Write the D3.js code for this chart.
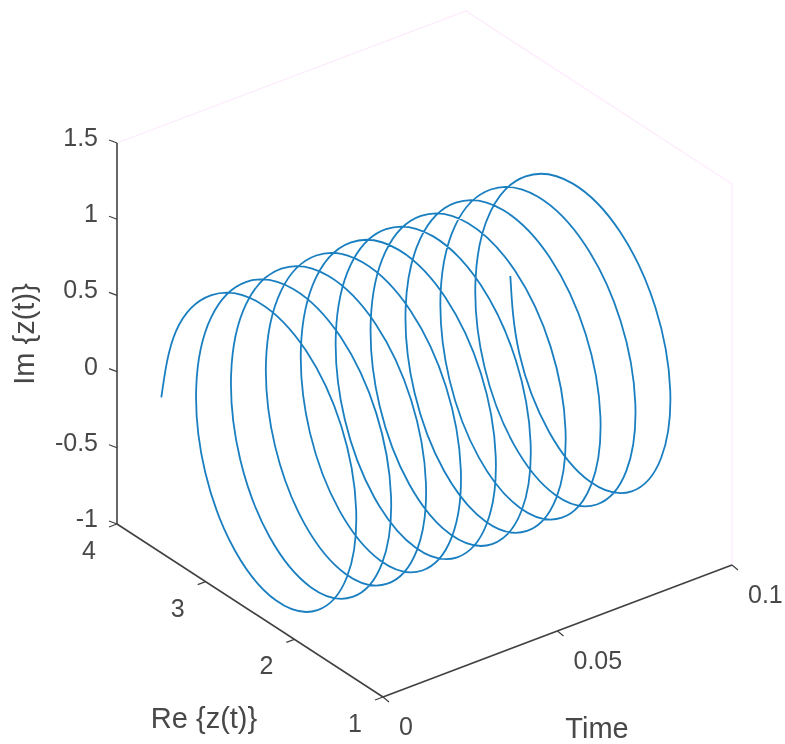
<!DOCTYPE html>
<html><head><meta charset="utf-8">
<script src="https://cdn.jsdelivr.net/npm/d3@7"></script>
<style>html,body{margin:0;padding:0;background:#fff}svg{display:block;filter:blur(0.55px)}text{font-family:"Liberation Sans",Arial,sans-serif;fill:#484848}</style>
</head><body><svg id="c" width="785" height="744"></svg>
<script>
const timeValues = [
0,.000833,.001667,.0025,.003333,.004167,.005,.005833,.006667,.0075,.008333,.009167,
.01,.010833,.011667,.0125,.013333,.014167,.015,.015833,.016667,.0175,.018333,.019167,
.02,.020833,.021667,.0225,.023333,.024167,.025,.025833,.026667,.0275,.028333,.029167,
.03,.030833,.031667,.0325,.033333,.034167,.035,.035833,.036667,.0375,.038333,.039167,
.04,.040833,.041667,.0425,.043333,.044167,.045,.045833,.046667,.0475,.048333,.049167,
.05,.050833,.051667,.0525,.053333,.054167,.055,.055833,.056667,.0575,.058333,.059167,
.06,.060833,.061667,.0625,.063333,.064167,.065,.065833,.066667,.0675,.068333,.069167,
.07,.070833,.071667,.0725,.073333,.074167,.075,.075833,.076667,.0775,.078333,.079167,
.08,.080833,.081667,.0825,.083333,.084167,.085,.085833,.086667,.0875,.088333,.089167,
.09,.090833,.091667,.0925,.093333,.094167,.095,.095833,.096667,.0975,.098333,.099167,
.1];
const reValues = [
3.5,3.366,3,2.5,2,1.634,1.5,1.634,2,2.5,3,3.366,
3.5,3.366,3,2.5,2,1.634,1.5,1.634,2,2.5,3,3.366,
3.5,3.366,3,2.5,2,1.634,1.5,1.634,2,2.5,3,3.366,
3.5,3.366,3,2.5,2,1.634,1.5,1.634,2,2.5,3,3.366,
3.5,3.366,3,2.5,2,1.634,1.5,1.634,2,2.5,3,3.366,
3.5,3.366,3,2.5,2,1.634,1.5,1.634,2,2.5,3,3.366,
3.5,3.366,3,2.5,2,1.634,1.5,1.634,2,2.5,3,3.366,
3.5,3.366,3,2.5,2,1.634,1.5,1.634,2,2.5,3,3.366,
3.5,3.366,3,2.5,2,1.634,1.5,1.634,2,2.5,3,3.366,
3.5,3.366,3,2.5,2,1.634,1.5,1.634,2,2.5,3,3.366,
3.5];
const imValues = [
.02,.5,.866,1,.866,.5,0,-.5,-.866,-1,-.866,-.5,
0,.5,.866,1,.866,.5,0,-.5,-.866,-1,-.866,-.5,
0,.5,.866,1,.866,.5,0,-.5,-.866,-1,-.866,-.5,
0,.5,.866,1,.866,.5,0,-.5,-.866,-1,-.866,-.5,
0,.5,.866,1,.866,.5,0,-.5,-.866,-1,-.866,-.5,
0,.5,.866,1,.866,.5,0,-.5,-.866,-1,-.866,-.5,
0,.5,.866,1,.866,.5,0,-.5,-.866,-1,-.866,-.5,
0,.5,.866,1,.866,.5,0,-.5,-.866,-1,-.866,-.5,
0,.5,.866,1,.866,.5,0,-.5,-.866,-1,-.866,-.5,
0,.5,.866,1,.866,.5,0,-.5,-.866,-1,-.866,-.5,
-.05];
const timeTicks = [0,0.05,0.1];
const timeTickLabels = ["0","0.05","0.1"];
const reTicks = [1,2,3,4];
const reTickLabels = ["1","2","3","4"];
const imTicks = [-1,-0.5,0,0.5,1,1.5];
const imTickLabels = ["-1","-0.5","0","0.5","1","1.5"];

const ox=383, oy=697;
const tX=d3.scaleLinear().domain([0,0.1]).range([0,349]);
const tY=d3.scaleLinear().domain([0,0.1]).range([0,-132]);
const rX=d3.scaleLinear().domain([1,4]).range([0,-266]);
const rY=d3.scaleLinear().domain([1,4]).range([0,-173]);
const zY=d3.scaleLinear().domain([-1,1.5]).range([0,-381]);
const P=(t,r,z)=>[ox+tX(t)+rX(r),oy+tY(t)+rY(r)+zY(z)];

const svg=d3.select("#c");
const line=d3.line();
const seg=(pts,col,w)=>svg.append("path").attr("d",line(pts)).attr("fill","none").attr("stroke",col).attr("stroke-width",w);

seg([P(0,4,1.5),P(0.1,4,1.5),P(0.1,1,1.5),P(0.1,1,-1)],"#fdeafd",1.2);

const axisCol="#404040";
seg([P(0,4,1.5),P(0,4,-1)],axisCol,1.6);
seg([P(0,4,-1),P(0,1,-1)],axisCol,1.6);
seg([P(0,1,-1),P(0.1,1,-1)],axisCol,1.6);

imTicks.forEach((v,i)=>{
  const [x,y]=P(0,4,v);
  seg([[x,y],[x-8,y-3]],axisCol,1.2);
  svg.append("text").attr("x",x-19).attr("y",y+3).attr("text-anchor","end").attr("font-size",25).text(imTickLabels[i]);
});
reTicks.forEach((v,i)=>{
  const [x,y]=P(0,v,-1);
  seg([[x,y],[x-8,y+3]],axisCol,1.2);
  svg.append("text").attr("x",x-28).attr("y",y+35).attr("text-anchor","middle").attr("font-size",25).text(reTickLabels[i]);
});
timeTicks.forEach((v,i)=>{
  const [x,y]=P(v,1,-1);
  seg([[x,y],[x+6,y+5]],axisCol,1.2);
  svg.append("text").attr("x",x+16).attr("y",y+38).attr("text-anchor","start").attr("font-size",25).text(timeTickLabels[i]);
});

svg.append("text").attr("x",204).attr("y",728).attr("text-anchor","middle").attr("font-size",29).text("Re {z(t)}");
svg.append("text").attr("x",597).attr("y",738).attr("text-anchor","middle").attr("font-size",29).text("Time");
svg.append("text").attr("transform","translate(34,334) rotate(-90)").attr("text-anchor","middle").attr("font-size",29).text("Im {z(t)}");

const pts=timeValues.map((t,i)=>P(t,reValues[i],imValues[i]));
svg.append("path").attr("d",d3.line().curve(d3.curveNatural)(pts))
  .attr("fill","none").attr("stroke","#1a7fc0").attr("stroke-width",1.8);
</script></body></html>
